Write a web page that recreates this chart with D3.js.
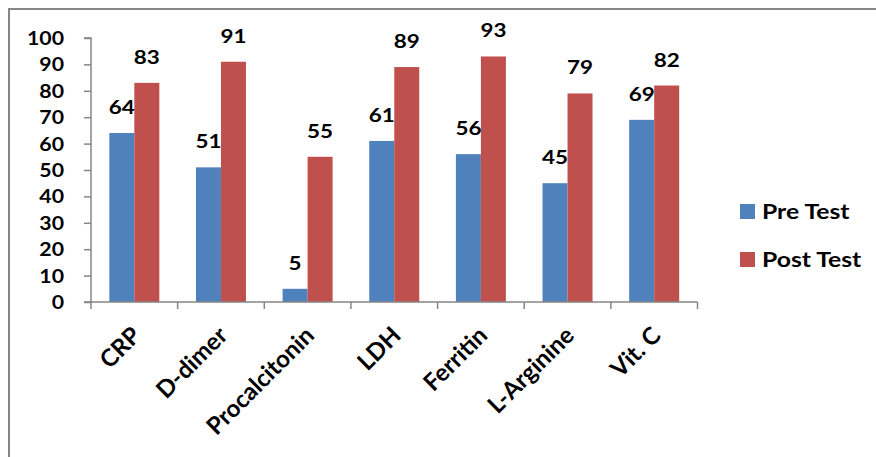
<!DOCTYPE html>
<html>
<head>
<meta charset="utf-8">
<script src="https://cdn.jsdelivr.net/npm/d3@7"></script>
<style>
  html, body { margin: 0; padding: 0; background: #fff; }
  svg { display: block; }
  text { font-family: Lato, "Open Sans", sans-serif; font-weight: 700; fill: #000; }
</style>
</head>
<body>
<svg id="chart" width="876" height="457"></svg>
<script>
// Marker categories
const categories = ["CRP", "D-dimer", "Procalcitonin", "LDH", "Ferritin", "L-Arginine", "Vit. C"];
// Series
const seriesNames = ["Pre Test", "Post Test"];
const preTest  = [64, 51, 5, 61, 56, 45, 69];
const postTest = [83, 91, 55, 89, 93, 79, 82];
// Value axis ticks
const yTicks = [0, 10, 20, 30, 40, 50, 60, 70, 80, 90, 100];

const seriesValues = [preTest, postTest];
const colors = ["#4F81BD", "#C0504D"];
const axisColor = "#868686";
const sx = 1.15; // horizontal widening of the upright lettering

const svg = d3.select("#chart");

// Outer frame of the chart area
svg.append("rect")
  .attr("x", 9).attr("y", 9)
  .attr("width", 1000).attr("height", 1000)
  .attr("fill", "none")
  .attr("stroke", axisColor)
  .attr("stroke-width", 2);

const plot = { left: 91, right: 697.5, top: 38, bottom: 302 };

const y = d3.scaleLinear().domain([0, 100]).range([plot.bottom, plot.top]);
const x0 = d3.scaleBand().domain(categories).range([plot.left, plot.right]).padding(0);
const groupWidth = 50;
const x1 = d3.scaleBand().domain(seriesNames)
  .range([(x0.step() - groupWidth) / 2, (x0.step() + groupWidth) / 2]);

// Bars
const groups = svg.append("g").selectAll("g")
  .data(categories)
  .join("g")
  .attr("transform", c => `translate(${x0(c)},0)`);

const cells = (c, i) => seriesNames.map((s, k) => ({ s, k, v: seriesValues[k][i] }));

groups.selectAll("rect")
  .data(cells)
  .join("rect")
  .attr("x", d => x1(d.s))
  .attr("width", x1.bandwidth())
  .attr("y", d => y(d.v))
  .attr("height", d => y(0) - y(d.v))
  .attr("fill", d => colors[d.k]);

// Value labels
groups.selectAll("text.val")
  .data(cells)
  .join("text")
  .attr("class", "val")
  .attr("text-anchor", "middle")
  .attr("transform", d => `translate(${x1(d.s) + x1.bandwidth() / 2},${y(d.v) - 19}) scale(${sx},1)`)
  .style("font-size", "19.5px")
  .text(d => d.v);

// Y axis
const yAxis = d3.axisLeft(y).tickValues(yTicks).tickSize(7).tickPadding(0).tickFormat(d3.format("d"));
const gy = svg.append("g").attr("transform", `translate(${plot.left},0)`).call(yAxis);
gy.select(".domain").attr("stroke", axisColor).attr("stroke-width", 1.5)
  .attr("d", `M-7,${plot.top}H0V${plot.bottom}H-7`);
gy.selectAll(".tick line").attr("stroke", axisColor).attr("stroke-width", 1.5);
gy.selectAll(".tick text")
  .attr("x", 0)
  .attr("dy", null)
  .attr("transform", "translate(-27,6.5) scale(" + sx + ",1)")
  .style("font-size", "18.5px")
  .style("font-family", "Lato, 'Open Sans', sans-serif")
  .style("font-weight", 700)
  .attr("fill", "#000");

// X axis line with boundary ticks
const boundaries = d3.range(categories.length + 1).map(i => plot.left + i * x0.step());
const gx = svg.append("g");
gx.append("line")
  .attr("x1", plot.left).attr("x2", plot.right)
  .attr("y1", plot.bottom).attr("y2", plot.bottom)
  .attr("stroke", axisColor).attr("stroke-width", 1.5);
gx.selectAll("line.tk")
  .data(boundaries)
  .join("line")
  .attr("class", "tk")
  .attr("x1", d => d).attr("x2", d => d)
  .attr("y1", plot.bottom).attr("y2", plot.bottom + 7)
  .attr("stroke", axisColor).attr("stroke-width", 1.5);

// Rotated category labels
gx.selectAll("text")
  .data(categories)
  .join("text")
  .attr("text-anchor", "end")
  .attr("transform", c => `translate(${x0(c) + x0.bandwidth() / 2 + 8},337) rotate(-45)`)
  .style("font-size", "24px")
  .text(c => c);

// Legend
const legend = svg.append("g").attr("transform", "translate(740,0)");
const legendRows = [219, 267];
seriesNames.forEach((s, k) => {
  legend.append("rect")
    .attr("x", 0).attr("y", legendRows[k] - 15)
    .attr("width", 15).attr("height", 15)
    .attr("fill", colors[k]);
  legend.append("text")
    .attr("transform", `translate(22,${legendRows[k]}) scale(${sx},1)`)
    .style("font-size", "21.5px")
    .text(s);
});
</script>
</body>
</html>
